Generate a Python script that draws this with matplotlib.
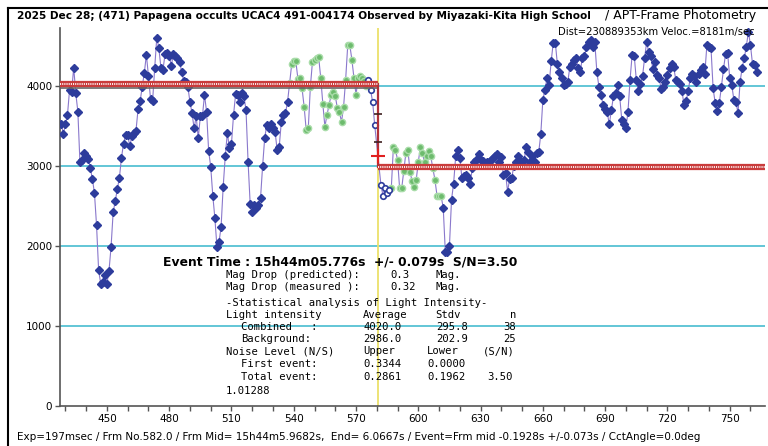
import matplotlib
matplotlib.use("Agg")
import matplotlib.pyplot as plt
import numpy as np

# light curve, one value per frame, starting at frame 428
first_frame = 428
intensity = [
    # 428-469
    3530, 3400, 3520, 3640, 3950, 3930, 4230, 3910, 3680, 3050,
    3070, 3160, 3120, 3090, 2970, 2840, 2660, 2260, 1700, 1530,
    1550, 1640, 1530, 1690, 1990, 2420, 2560, 2710, 2850, 3100,
    3280, 3390, 3390, 3250, 3370, 3410, 3440, 3710, 3810, 3990,
    4160, 4390,
    # 470-510
    4130, 3840, 3810, 4220, 4600, 4480, 4230, 4200, 4400, 4410,
    4380, 4250, 4400, 4370, 4350, 4300, 4180, 4060, 4050, 3990,
    3800, 3660, 3470, 3620, 3350, 3620, 3620, 3890, 3680, 3190,
    2990, 2630, 2350, 1990, 2050, 2240, 2740, 3120, 3410, 3230,
    3280,
    # 511-537
    3640, 3900, 3890, 3800, 3910, 3870, 3700, 3050, 2530, 2430,
    2510, 2470, 2510, 2600, 3000, 3350, 3510, 3470, 3530, 3470,
    3430, 3200, 3240, 3550, 3640, 3660, 3800,
    # 538-575 (combined sample)
    4040, 4270, 4310, 4310, 4090, 4100, 3970, 3740, 3450, 3470,
    3990, 4300, 4320, 4350, 4360, 4100, 3780, 3490, 3640, 3760,
    3890, 3930, 3880, 3720, 3680, 3550, 3740, 4080, 4510, 4510,
    4330, 4100, 3890, 4100, 4130, 4100, 4060, 4000,
]
# frames 576-579 before the event, 582-586 after it
pre_event = [4080, 3950, 3800, 3510]
post_event = [2760, 2630, 2720, 2660, 2700]
# frames 587-611 (background sample)
background = [
    2730, 3240, 3200, 3080, 2720, 2720, 2940, 3160, 3200, 2930,
    2810, 2740, 2830, 3050, 3240, 3160, 3050, 3120, 3190, 3120,
    2970, 2830, 2630, 2620, 2620,
]
# frames 612-763
after = [
    2480, 1930, 1920, 2000, 2580, 2780, 3120, 3200, 3100, 2850,
    2870, 2890, 2850, 2770, 2980, 3050, 3080, 3150, 3080, 3060,
    3030, 3050, 3050, 3080, 3100, 3120, 3150, 3050, 3110, 2890,
    2910, 2680, 2840, 2850, 3000, 3050, 3120, 3060, 3050, 3080,
    3240, 3180, 3050, 3120, 3050, 3160, 3170, 3400, 3830, 3950,
    4100, 4010, 4310, 4540, 4540, 4270, 4180, 4100, 4010, 4030,
    4050,
    4240, 4270, 4330, 4350, 4230, 4180, 4350, 4370, 4490, 4550,
    4570, 4490, 4550, 4180, 3990, 3890, 3760, 3710, 3670, 3520,
    3700, 3870, 3910, 4010, 3870, 3580, 3530, 3470, 3680, 4080,
    4390, 4380, 4080, 3940, 4030, 4120, 4350, 4550, 4420, 4370,
    4210, 4300, 4140, 4100, 3960, 3990, 4050, 4140, 4230, 4270,
    4240, 4080, 4050, 4020, 3940, 3760, 3810, 3940, 4100, 4150,
    4120, 4050, 4150, 4200, 4240, 4150, 4510, 4490, 4470, 3970,
    3790, 3690, 3790, 3990, 4210, 4400, 4410, 4100, 4010, 3830,
    3800, 3660, 4050, 4230, 4350, 4490, 4680, 4510, 4270, 4260,
    4180,
]
n_combined = 38
event_frame = 580.4
level_before = 4020.0
level_after = 2986.0
step_marks = [3650, 3300]
event_mark = 3120

# frame numbers
f_main = np.arange(first_frame, first_frame + len(intensity))
f_pre = np.arange(576, 576 + len(pre_event))
f_post = np.arange(582, 582 + len(post_event))
f_bg = np.arange(587, 587 + len(background))
f_after = np.arange(612, 612 + len(after))

all_f = np.concatenate([f_main, f_pre, f_post, f_bg, f_after])
all_v = np.concatenate([intensity, pre_event, post_event, background, after])

BLUE = "#2d3c9c"
fig = plt.figure(figsize=(7.68, 4.46), dpi=100)
ax = fig.add_axes([60 / 768, 40 / 446, 705 / 768, 378 / 446])

xmin, xmax = 427.4, 767.0
ax.set_xlim(xmin, xmax)
ax.set_ylim(0, 4725)

for lv in [1000, 2000, 3000, 4000]:
    ax.axhline(lv, color="#62c6d6", lw=1.4, zorder=1)

ax.axvline(event_frame, color="#ece06a", lw=1.3, zorder=1)

# connecting line
ax.plot(all_f, all_v, color="#8a78cc", lw=0.8, zorder=2)

# plain points
n_plain = len(intensity) - n_combined
ax.plot(f_main[:n_plain], intensity[:n_plain], ls="none", marker="D", ms=4,
        color=BLUE, zorder=4)
ax.plot(f_after, after, ls="none", marker="D", ms=4, color=BLUE, zorder=4)
# combined / background samples
ax.plot(f_main[n_plain:], intensity[n_plain:], ls="none", marker="o", ms=4.5,
        mfc="#6dbb6d", mec="#a9dca9", mew=1.0, zorder=4)
ax.plot(f_bg, background, ls="none", marker="o", ms=4.5,
        mfc="#6dbb6d", mec="#a9dca9", mew=1.0, zorder=4)
# transition points
ax.plot(np.concatenate([f_pre, f_post]), pre_event + post_event, ls="none",
        marker="o", ms=4, mfc="white", mec=BLUE, mew=1.2, zorder=4)

# fitted levels
ax.plot([xmin, event_frame], [level_before - 40] * 2, color="#666666", lw=1.2, zorder=4)
for x0, x1, lv in [(xmin, event_frame, level_before), (event_frame, xmax, level_after)]:
    ax.plot([x0, x1], [lv, lv], color="#c93b3b", lw=4.5, solid_capstyle="butt", zorder=5)
    ax.plot([x0, x1], [lv, lv], color="white", lw=1.3, ls=(0, (0.6, 0.6)), zorder=6)
ax.plot([event_frame, event_frame], [level_after, level_before], color="#b0303a", lw=1.6, zorder=5)
ax.plot([event_frame] * len(step_marks), step_marks, ls="none", marker="_", ms=6,
        color="#402020", mew=1.2, zorder=6)
ax.plot([event_frame], [event_mark], ls="none", marker="+", ms=10, color="#e02020", mew=1.5, zorder=6)

# axes styling
for s in ["top", "right"]:
    ax.spines[s].set_visible(False)
ax.spines["left"].set_color("#555555")
ax.spines["bottom"].set_color("#555555")
ax.spines["left"].set_linewidth(1.2)
ax.spines["bottom"].set_linewidth(1.2)

xt = np.arange(430, 770, 10)
ax.set_xticks(xt)
ax.set_xticklabels([str(t) if t % 30 == 0 else "" for t in xt], fontsize=7.5)
ax.set_yticks([0, 1000, 2000, 3000, 4000])
ax.set_yticklabels(["0", "1000", "2000", "3000", "4000"], fontsize=7.5)
ax.tick_params(axis="both", length=3.5, width=1, color="#555555", pad=2)


def px(x, y):
    return x / 768, 1 - y / 446


fig.text(*px(17, 16), "2025 Dec 28; (471) Papagena occults UCAC4 491-004174 Observed by Miyazaki-Kita High School",
         fontsize=7.6, fontweight="bold", va="center", ha="left")
fig.text(*px(605, 16), "/ APT-Frame Photometry", fontsize=9.0, va="center", ha="left")
fig.text(*px(755, 32), "Dist=230889353km Veloc.=8181m/sec", fontsize=7.2, va="center", ha="right")

fig.text(*px(163, 262), "Event Time : 15h44m05.776s  +/- 0.079s  S/N=3.50",
         fontsize=8.9, fontweight="bold", va="center", ha="left")

mono = dict(fontsize=7.6, family="DejaVu Sans Mono", va="center", ha="left")
rows = [
    (275, [(226, "Mag Drop (predicted):"), (390, "0.3"), (435, "Mag.")]),
    (287, [(226, "Mag Drop (measured ):"), (390, "0.32"), (435, "Mag.")]),
    (303, [(226, "-Statistical analysis of Light Intensity-")]),
    (315, [(226, "Light intensity"), (363, "Average"), (435, "Stdv"), (510, "n")]),
    (327, [(241, "Combined   :"), (363, "4020.0"), (436, "295.8"), (503, "38")]),
    (339, [(241, "Background:"), (363, "2986.0"), (436, "202.9"), (503, "25")]),
    (351, [(226, "Noise Level (N/S)"), (363, "Upper"), (427, "Lower"), (483, "(S/N)")]),
    (364, [(241, "First event:"), (363, "0.3344"), (427, "0.0000")]),
    (377, [(241, "Total event:"), (363, "0.2861"), (427, "0.1962"), (487, "3.50")]),
    (391, [(226, "1.01288")]),
]
for y, parts in rows:
    for x, s in parts:
        fig.text(*px(x, y), s, **mono)

fig.text(*px(17, 437),
         "Exp=197msec / Frm No.582.0 / Frm Mid= 15h44m5.9682s,  End= 6.0667s / Event=Frm mid -0.1928s +/-0.073s / CctAngle=0.0deg",
         fontsize=7.45, va="center", ha="left")

# outer frame
fig.add_artist(plt.Line2D([8 / 768, 8 / 768], [0, 1 - 8 / 446], color="black", lw=1.5))
fig.add_artist(plt.Line2D([8 / 768, 1], [1 - 8 / 446, 1 - 8 / 446], color="black", lw=1.5))

fig.savefig("out.png", dpi=100)
